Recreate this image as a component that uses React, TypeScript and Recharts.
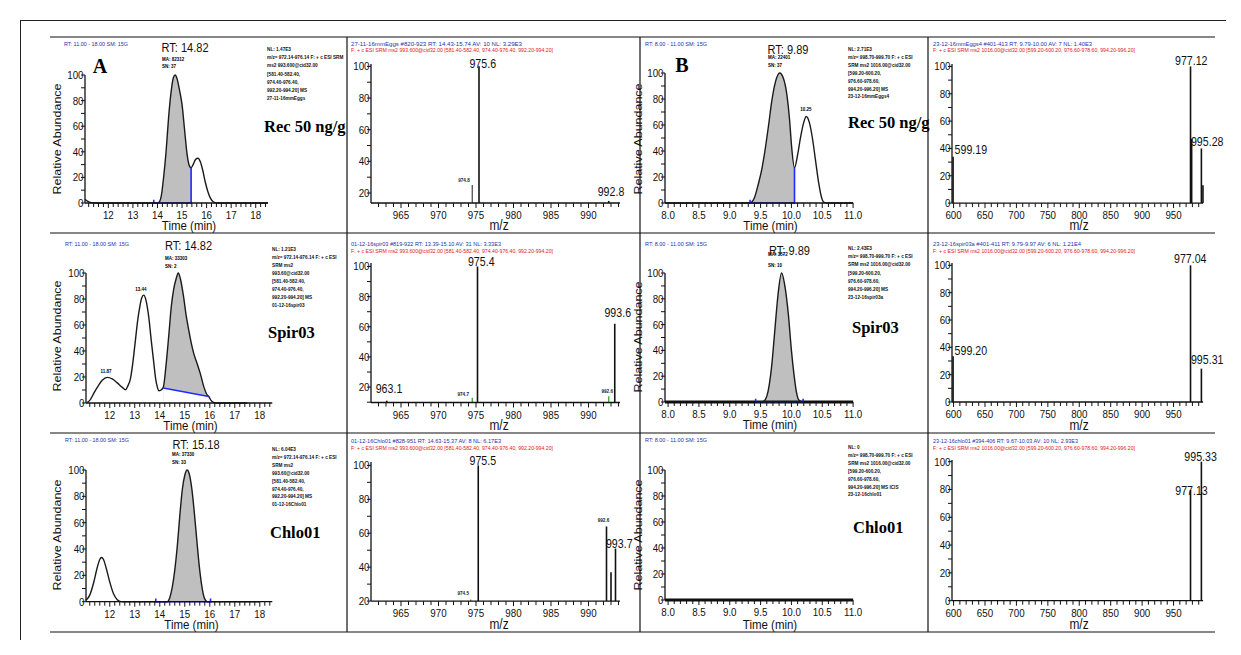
import React from "react";
import { ComposedChart, Line, Area, XAxis, YAxis, ReferenceLine, Scatter } from "recharts";

const SANS = "'Liberation Sans', Arial, Helvetica, sans-serif";
const SERIF = "'Liberation Serif', 'Times New Roman', serif";
const BLUE = "#1f2bff";
const GREEN = "#22a022";

// tick labels
const rtTicksA = [12, 13, 14, 15, 16, 17, 18];
const rtTicksB = [8, 8.5, 9, 9.5, 10, 10.5, 11];
const mzTicksA = [965, 970, 975, 980, 985, 990];
const mzTicksB = [600, 650, 700, 750, 800, 850, 900, 950];
const abTicks = [0, 20, 40, 60, 80, 100];
const abTicksMs = [20, 40, 60, 80, 100];

// minor tick positions
const steps = (a: number, b: number, s: number) =>
  Array.from({ length: Math.round((b - a) / s) + 1 }, (_, i) => +(a + i * s).toFixed(2));

// ---- sample A chromatograms [time, rel. abundance]
const chromRecA = [
  [11.05, 3], [11.15, 1.5], [11.3, 0.3], [11.5, 0], [13.9, 0], [14.05, 0.5], [14.15, 5], [14.25, 20],
  [14.35, 40], [14.45, 66], [14.55, 86], [14.65, 98], [14.72, 100], [14.8, 97], [14.9, 88], [15.0, 77],
  [15.1, 58], [15.2, 39], [15.3, 29], [15.37, 27.5], [15.45, 30], [15.55, 34], [15.65, 35], [15.75, 32],
  [15.85, 25], [15.95, 16], [16.05, 9], [16.15, 4], [16.27, 1], [16.4, 0], [18.5, 0],
];
const winRecA = [14.05, 15.37];
const baseRecA = [[13.85, 2.5], [13.85, 0], [15.37, 0], [15.37, 27.5]];

const chromSpirA = [
  [11.1, 0.5], [11.2, 2], [11.35, 7], [11.5, 12], [11.7, 17.5], [11.9, 19.7], [12.1, 18.5], [12.3, 15.5],
  [12.5, 12], [12.63, 10.2], [12.72, 13], [12.83, 19], [12.93, 32], [13.03, 49], [13.12, 64], [13.2, 74],
  [13.28, 81], [13.36, 83], [13.45, 79], [13.56, 66], [13.66, 48], [13.76, 31], [13.84, 18], [13.9, 12.5],
  [13.96, 9.4], [14.05, 10], [14.14, 12], [14.26, 31], [14.36, 52], [14.46, 74], [14.56, 88], [14.66, 96],
  [14.74, 100], [14.82, 96], [14.95, 82], [15.05, 68], [15.16, 56], [15.26, 46], [15.36, 38], [15.5, 30],
  [15.63, 22], [15.77, 12], [15.9, 6], [15.96, 5], [16.05, 2], [16.15, 0.5], [16.25, 0], [17.5, 0],
];
const winSpirA = [14.14, 15.96];
const baseSpirA = [[14.14, 11.5], [15.96, 5]];

const chromChloA = [
  [11.05, 1], [11.2, 5], [11.35, 14], [11.5, 26], [11.6, 32], [11.67, 33.5], [11.75, 32], [11.85, 26],
  [12.0, 15], [12.15, 6], [12.3, 1.5], [12.4, 0.3], [12.5, 0], [14.3, 0], [14.4, 3], [14.5, 11],
  [14.6, 24], [14.7, 42], [14.8, 65], [14.9, 85], [15.0, 96], [15.09, 100], [15.18, 97], [15.28, 86],
  [15.38, 68], [15.48, 47], [15.58, 27], [15.68, 12], [15.78, 3], [15.9, 0], [18.0, 0],
];
const winChloA = [14.3, 15.9];
const baseChloA = [[13.84, 2.5], [13.84, 0], [16.03, 0], [16.03, 2.5]];

// ---- sample B chromatograms
const chromRecB = [
  [7.95, 0], [9.3, 0], [9.35, 0.5], [9.4, 4], [9.46, 14], [9.52, 26], [9.57, 40], [9.63, 60], [9.68, 78],
  [9.74, 93], [9.81, 100], [9.87, 96], [9.93, 82], [9.97, 64], [10.0, 45], [10.05, 27], [10.1, 37],
  [10.15, 51], [10.2, 62], [10.24, 66.5], [10.29, 62], [10.34, 50], [10.39, 33], [10.44, 16], [10.49, 4],
  [10.53, 0.5], [10.6, 0], [11, 0],
];
const winRecB = [9.35, 10.05];
const baseRecB = [[9.33, 2.5], [9.33, 0], [10.05, 0], [10.05, 27]];

const chromSpirB = [
  [9.5, 0], [9.56, 1], [9.62, 8], [9.68, 28], [9.73, 55], [9.78, 82], [9.84, 100], [9.9, 88],
  [9.95, 68], [10.0, 40], [10.04, 22], [10.08, 8], [10.12, 1.5], [10.18, 0],
];
const winSpirB = [9.5, 10.18];
const baseSpirB = [[9.42, 2.5], [9.42, 0], [10.19, 0], [10.19, 2.5]];

const floorB = [[7.95, 0], [11, 0]];

// ---- spectra [m/z, rel. abundance]
const specRecA = [[975.4, 100], [992.7, 15]];
const specRecAminor = [[974.5, 25]];
const specSpirA = [[963.1, 11], [975.2, 100], [993.5, 62]];
const specSpirAminor = [[974.5, 13], [992.7, 14]];
const specChloA = [[975.3, 100], [992.4, 64], [993.0, 37], [993.6, 51]];
const specChloAminor = [[974.3, 21]];
const specRecB = [[599.2, 34], [977.0, 100], [978.8, 47], [994.3, 40], [996.8, 13]];
const specSpirB = [[599.2, 33.5], [977.0, 100], [994.3, 24.4]];
const specChloB = [[977.0, 79.6], [994.3, 100]];

// peak labels [m/z, abundance, text]
const lblRecA = [[975.9, 99, "975.6"], [993.0, 17.9, "992.8"]];
const lblRecAminor = [[973.4, 26.7, "974.8"]];
const lblSpirA = [[975.7, 100.5, "975.4"], [993.9, 66.4, "993.6"], [963.4, 16, "963.1"]];
const lblSpirAminor = [[973.3, 14.4, "974.7"], [992.5, 16.4, "992.6"]];
const lblChloA = [[975.9, 100, "975.5"], [994.1, 51.5, "993.7"]];
const lblChloAminor = [[973.3, 23.4, "974.5"], [992.0, 66.6, "992.6"]];
const lblRecB = [[978.2, 101.2, "977.12"], [601.6, 35.9, "599.19"], [977.7, 41.9, "995.28"]];
const lblSpirB = [[976.6, 101.7, "977.04"], [601.6, 34.7, "599.20"], [977.7, 27.6, "995.31"]];
const lblChloB = [[993.0, 100.7, "995.33"], [978.5, 75.8, "977.13"]];
const START = new Set(["599.19", "599.20", "995.28", "995.31"]);

const YW = 40, TOP = 18, RIGHT = 34, XH = 24;

const mkTick = (axis: "x" | "y", majors: number[], fmt: (v: number) => string) => (p: any) => {
  const { x, y, payload } = p;
  const v = payload.value;
  const major = majors.some((m) => Math.abs(m - v) < 1e-6);
  if (axis === "x") {
    return (
      <g>
        <line x1={x} x2={x} y1={y} y2={y + (major ? 5 : 4)} stroke="#111" strokeWidth={1} />
        {major && (
          <text transform={`translate(${x} ${y + 16}) scale(0.85 1)`} textAnchor="middle" fontSize={11.5} fontFamily={SANS} fill="#111">
            {fmt(v)}
          </text>
        )}
      </g>
    );
  }
  return (
    <g>
      <line x1={x - 4} x2={x} y1={y} y2={y} stroke="#111" strokeWidth={1} />
      {major && (
        <text transform={`translate(${x - 1.5} ${y + 4}) scale(0.85 1)`} textAnchor="end" fontSize={11.5} fontFamily={SANS} fill="#111">
          {fmt(v)}
        </text>
      )}
    </g>
  );
};

function Chart(props: any) {
  const { box, xDomain, yDomain, xTicks, xMajor, xFmt, yTicks, yMajor, children } = props;
  const w = box.x1 - box.x0 + YW + RIGHT;
  const h = box.y1 - box.y0 + TOP + XH;
  return (
    <div style={{ position: "absolute", left: box.x0 - YW, top: box.y0 - TOP }}>
      <ComposedChart width={w} height={h} margin={{ top: TOP, right: RIGHT, bottom: 0, left: 0 }}>
        {children}
        <XAxis type="number" dataKey="x" domain={xDomain} ticks={xTicks} interval={0} height={XH}
          tickSize={0} tickMargin={0} tickLine={false} axisLine={{ stroke: "#111", strokeWidth: 1.3 }} tick={mkTick("x", xMajor, xFmt)} />
        <YAxis type="number" dataKey="y" domain={yDomain} ticks={yTicks} interval={0} width={YW}
          tickSize={0} tickMargin={0} tickLine={false} axisLine={{ stroke: "#111", strokeWidth: 1.3 }} tick={mkTick("y", yMajor, (v) => String(v))} />
      </ComposedChart>
    </div>
  );
}

const toPts = (a: any[]) => a.map(([x, y]) => ({ x, y }));

function Chrom(props: any) {
  const { curve, win, base, cover, floor, ...rest } = props;
  const pts = curve ? toPts(curve) : [];
  const fill = win ? pts.filter((p) => p.x >= win[0] - 1e-9 && p.x <= win[1] + 1e-9) : [];
  const basePts = base ? toPts(base) : [];
  return (
    <Chart {...rest} yDomain={[0, 100]} yTicks={steps(0, 100, 10)} yMajor={abTicks}>
      {fill.length > 0 && (
        <Area data={fill} dataKey="y" type="monotone" stroke="none" fill="#bfbfbf" fillOpacity={1} isAnimationActive={false} />
      )}
      {cover && (
        <Area data={basePts} dataKey="y" type="linear" stroke="none" fill="#ffffff" fillOpacity={1} isAnimationActive={false} />
      )}
      {floor && (
        <Line data={toPts(floor)} dataKey="y" type="linear" stroke="#111" strokeWidth={3} dot={false} isAnimationActive={false} />
      )}
      {pts.length > 0 && (
        <Line data={pts} dataKey="y" type="monotone" stroke="#1a1a1a" strokeWidth={1.4} dot={false} isAnimationActive={false} />
      )}
      {basePts.length > 0 && (
        <Line data={basePts} dataKey="y" type="linear" stroke={BLUE} strokeWidth={1.6} dot={false} isAnimationActive={false} />
      )}
    </Chart>
  );
}

function Spectrum(props: any) {
  const { sticks, minor, minorColor, labels, minorLabels, yDomain, ...rest } = props;
  const floor = yDomain[0];
  return (
    <Chart {...rest} yDomain={yDomain}>
      {minor.map(([mz, h]: number[], i: number) => (
        <ReferenceLine key={"m" + i} segment={[{ x: mz, y: floor }, { x: mz, y: h }]} stroke={minorColor} strokeWidth={1.2} ifOverflow="visible" />
      ))}
      {sticks.map(([mz, h]: number[], i: number) => (
        <ReferenceLine key={"s" + i} segment={[{ x: mz, y: floor }, { x: mz, y: h }]} stroke="#111" strokeWidth={1.6} ifOverflow="visible" />
      ))}
      <Scatter
        data={labels.map(([x, y, t]: any[]) => ({ x, y, t }))}
        isAnimationActive={false}
        shape={(p: any) => (
          <text transform={`translate(${p.cx} ${p.cy}) scale(0.85 1)`} textAnchor={START.has(p.payload.t) ? "start" : "middle"}
            fontSize={12.5} fontFamily={SANS} fill="#111">
            {p.payload.t}
          </text>
        )}
      />
      <Scatter
        data={minorLabels.map(([x, y, t]: any[]) => ({ x, y, t }))}
        isAnimationActive={false}
        shape={(p: any) => (
          <text x={p.cx} y={p.cy} textAnchor="middle" fontSize={4.6} fontFamily={SANS} fontWeight={700} fill="#222">
            {p.payload.t}
          </text>
        )}
      />
    </Chart>
  );
}

// ---------- overlay text helpers
function NT(p: any) {
  const { x, y, s, a = "start", f = "#111", w = 400, sx = 0.85, fam = SANS, len, children } = p;
  return (
    <text transform={`translate(${x} ${y}) scale(${sx} 1)`} fontSize={s} textAnchor={a} fill={f} fontWeight={w} fontFamily={fam}
      textLength={len ? len / sx : undefined} lengthAdjust={len ? "spacingAndGlyphs" : undefined}>
      {children}
    </text>
  );
}

function Block({ x, y, gap, lines }: any) {
  return (
    <g>
      {lines.map((t: string, i: number) => (
        <text key={i} x={x} y={y + i * gap} fontSize={4.7} fontWeight={700} fontFamily={SANS} fill="#111">
          {t}
        </text>
      ))}
    </g>
  );
}

function RelAb({ x, y }: any) {
  return (
    <text transform={`translate(${x} ${y}) rotate(-90) scale(1 0.85)`} textAnchor="middle" dominantBaseline="central" fontSize={12.5} fontFamily={SANS} fill="#111">
      Relative Abundance
    </text>
  );
}

const sideA = (nl: string, tail: string, file: string) => [
  `NL: ${nl}`, "m/z= 972.14-976.14 F: + c ESI SRM", tail, "[581.40-582.40,", "974.40-976.40,", "992.20-994.20]  MS", file,
];
const sideB = (nl: string, last: string, file: string) => [
  `NL: ${nl}`, "m/z= 998.70-999.70 F: + c ESI", "SRM ms2 1016.00@cid32.00", "[599.20-600.20,", "976.60-978.60,", last, file,
];
const redA = "F: + c ESI SRM ms2 993.600@cid32.00 [581.40-582.40, 974.40-976.40, 992.20-994.20]";
const redB = "F: + c ESI SRM ms2 1016.00@cid32.00 [599.20-600.20, 976.60-978.60, 994.20-996.20]";

function Overlay() {
  return (
    <svg width={1241} height={655} style={{ position: "absolute", left: 0, top: 0, pointerEvents: "none" }}>
      {/* frame */}
      <line x1={20} y1={20.5} x2={1226} y2={20.5} stroke="#222" strokeWidth={1} />
      <line x1={20.5} y1={20} x2={20.5} y2={640} stroke="#222" strokeWidth={1} />
      {[37, 233, 433, 632].map((y) => (
        <line key={y} x1={50} y1={y} x2={1215} y2={y} stroke="#111" strokeWidth={1.2} />
      ))}
      {[347, 640, 928].map((x) => (
        <line key={x} x1={x} y1={37} x2={x} y2={632} stroke="#111" strokeWidth={1.2} />
      ))}

      {/* column A chromatograms */}
      <NT x={64} y={46} s={5} f="#2233aa" len={64}>RT: 11.00 - 18.00  SM: 15G</NT>
      <NT x={185} y={52} s={13} a="middle">RT: 14.82</NT>
      <text x={162} y={61} fontSize={4.5} fontFamily={SANS} fontWeight={700}>MA: 82312</text>
      <text x={162} y={68} fontSize={4.5} fontFamily={SANS} fontWeight={700}>SN: 37</text>
      <text x={100} y={73} fontSize={20} fontFamily={SERIF} fontWeight={700} textAnchor="middle">A</text>
      <Block x={267} y={51} gap={8.2} lines={sideA("1.47E3", "ms2 993.600@cid32.00", "27-11-16mmEggs")} />
      <text x={264} y={132} fontSize={16.5} fontFamily={SERIF} fontWeight={700}>Rec 50 ng/g</text>
      <RelAb x={57} y={139} />
      <NT x={189} y={230} s={13.5} a="middle">Time (min)</NT>

      <NT x={65} y={246} s={5} f="#2233aa" len={64}>RT: 11.00 - 18.00  SM: 15G</NT>
      <NT x={188.5} y={250} s={13} a="middle">RT: 14.82</NT>
      <text x={165} y={259.5} fontSize={4.5} fontFamily={SANS} fontWeight={700}>MA: 33303</text>
      <text x={165} y={268} fontSize={4.5} fontFamily={SANS} fontWeight={700}>SN: 2</text>
      <Block x={272} y={251} gap={8} lines={["NL: 1.21E3", "m/z= 972.14-976.14 F: + c ESI", "SRM ms2", "993.60@cid32.00", "[581.40-582.40,", "974.40-976.40,", "992.20-994.20]  MS", "01-12-16spir03"]} />
      <text x={268} y={338} fontSize={16.5} fontFamily={SERIF} fontWeight={700}>Spir03</text>
      <text x={106} y={373} fontSize={4.5} fontFamily={SANS} fontWeight={700} textAnchor="middle">11.87</text>
      <text x={141} y={291} fontSize={4.5} fontFamily={SANS} fontWeight={700} textAnchor="middle">13.44</text>
      <RelAb x={57} y={336} />
      <NT x={190.5} y={430} s={13.5} a="middle">Time (min)</NT>

      <NT x={65} y={442} s={5} f="#2233aa" len={64}>RT: 11.00 - 18.00  SM: 15G</NT>
      <NT x={196} y={449} s={13} a="middle">RT: 15.18</NT>
      <text x={172} y={456} fontSize={4.5} fontFamily={SANS} fontWeight={700}>MA: 37330</text>
      <text x={172} y={464} fontSize={4.5} fontFamily={SANS} fontWeight={700}>SN: 33</text>
      <Block x={272} y={451} gap={7.9} lines={["NL: 6.04E3", "m/z= 972.14-976.14 F: + c ESI", "SRM ms2", "993.60@cid32.00", "[581.40-582.40,", "974.40-976.40,", "992.20-994.20]  MS", "01-12-16Chlo01"]} />
      <text x={270} y={538} fontSize={16.5} fontFamily={SERIF} fontWeight={700}>Chlo01</text>
      <RelAb x={57} y={535} />
      <NT x={191.5} y={629} s={13.5} a="middle">Time (min)</NT>

      {/* column A spectra */}
      <NT x={351} y={46} s={5} f="#2233aa" len={171}>27-11-16mmEggs #820-923  RT: 14.43-15.74  AV: 10  NL: 3.29E3</NT>
      <NT x={351} y={52} s={5} f="#e02020" len={202}>{redA}</NT>
      <NT x={499} y={230} s={14} a="middle">m/z</NT>
      <NT x={351} y={246} s={5} f="#2233aa" len={150}>01-12-16spir03 #819-922  RT: 13.39-15.10  AV: 31  NL: 3.33E3</NT>
      <NT x={351} y={253} s={5} f="#e02020" len={202}>{redA}</NT>
      <NT x={499} y={430} s={14} a="middle">m/z</NT>
      <NT x={351} y={443} s={5} f="#2233aa" len={150}>01-12-16Chlo01 #828-951  RT: 14.63-15.37  AV: 8  NL: 6.17E3</NT>
      <NT x={351} y={450} s={5} f="#e02020" len={202}>{redA}</NT>
      <NT x={499} y={629} s={14} a="middle">m/z</NT>

      {/* column B chromatograms */}
      <NT x={645} y={46} s={5} f="#2233aa" len={62}>RT: 8.00 - 11.00  SM: 15G</NT>
      <NT x={788} y={54} s={13} a="middle">RT: 9.89</NT>
      <text x={768} y={59} fontSize={4.5} fontFamily={SANS} fontWeight={700}>MA: 22401</text>
      <text x={768} y={67} fontSize={4.5} fontFamily={SANS} fontWeight={700}>SN: 37</text>
      <text x={682} y={72} fontSize={20} fontFamily={SERIF} fontWeight={700} textAnchor="middle">B</text>
      <Block x={848} y={51} gap={7.9} lines={sideB("2.71E3", "994.20-996.20]  MS", "23-12-16mmEggs4")} />
      <text x={848} y={128} fontSize={16.5} fontFamily={SERIF} fontWeight={700}>Rec 50 ng/g</text>
      <text x={806} y={111} fontSize={4.5} fontFamily={SANS} fontWeight={700} textAnchor="middle">10.25</text>
      <RelAb x={637.5} y={139} />
      <NT x={770.5} y={230} s={13.5} a="middle">Time (min)</NT>

      <NT x={645} y={246} s={5} f="#2233aa" len={62}>RT: 8.00 - 11.00  SM: 15G</NT>
      <NT x={789.5} y={255} s={13} a="middle">RT: 9.89</NT>
      <text x={768} y={256} fontSize={4.5} fontFamily={SANS} fontWeight={700}>MA: 3572</text>
      <text x={768} y={267} fontSize={4.5} fontFamily={SANS} fontWeight={700}>SN: 10</text>
      <Block x={848} y={250} gap={8.2} lines={sideB("2.43E3", "994.20-996.20]  MS", "23-12-16spir03a")} />
      <text x={852} y={333} fontSize={16.5} fontFamily={SERIF} fontWeight={700}>Spir03</text>
      <RelAb x={637.5} y={337} />
      <NT x={770} y={429} s={13.5} a="middle">Time (min)</NT>

      <NT x={645} y={442} s={5} f="#2233aa" len={62}>RT: 8.00 - 11.00  SM: 15G</NT>
      <Block x={848} y={449} gap={7.9} lines={sideB("0", "994.20-996.20]  MS  ICIS", "23-12-16chlo01")} />
      <text x={853} y={533} fontSize={16.5} fontFamily={SERIF} fontWeight={700}>Chlo01</text>
      <RelAb x={637.5} y={535} />
      <NT x={770} y={629} s={13.5} a="middle">Time (min)</NT>

      {/* column B spectra */}
      <NT x={933} y={46} s={5} f="#2233aa" len={159}>23-12-16mmEggs4 #401-413  RT: 9.79-10.00  AV: 7  NL: 1.40E3</NT>
      <NT x={933} y={52} s={5} f="#e02020" len={202}>{redB}</NT>
      <NT x={1079} y={230} s={14} a="middle">m/z</NT>
      <NT x={933} y={246} s={5} f="#2233aa" len={148}>23-12-16spir03a #401-411  RT: 9.79-9.97  AV: 6  NL: 1.21E4</NT>
      <NT x={933} y={253} s={5} f="#e02020" len={202}>{redB}</NT>
      <NT x={1079} y={430} s={14} a="middle">m/z</NT>
      <NT x={933} y={443} s={5} f="#2233aa" len={145}>23-12-16chlo01 #394-406  RT: 9.67-10.03  AV: 10  NL: 2.93E3</NT>
      <NT x={933} y={450} s={5} f="#e02020" len={202}>{redB}</NT>
      <NT x={1079} y={629} s={14} a="middle">m/z</NT>
    </svg>
  );
}

export default function App() {
  const fmtInt = (v: number) => String(v);
  const fmt1 = (v: number) => v.toFixed(1);
  const colA = { xDomain: [11.05, 18.5], xTicks: steps(11.2, 18.4, 0.2), xMajor: rtTicksA, xFmt: fmtInt };
  const colB = { xDomain: [7.95, 11], xTicks: steps(8, 11, 0.1), xMajor: rtTicksB, xFmt: fmt1 };
  const msA = { xDomain: [961, 994.2], xTicks: steps(962, 994, 1), xMajor: mzTicksA, xFmt: fmtInt, yMajor: abTicksMs };
  const msB = { xDomain: [597.5, 997], xTicks: steps(600, 990, 10), xMajor: mzTicksB, xFmt: fmtInt, yMajor: abTicks, yTicks: steps(0, 100, 10) };
  return (
    <div style={{ position: "absolute", left: 0, top: 0, width: 1241, height: 655, background: "#fff", overflow: "hidden" }}>
      <Chrom {...colA} box={{ x0: 85, x1: 268, y0: 75, y1: 203 }} curve={chromRecA} win={winRecA} base={baseRecA} />
      <Chrom {...colA} box={{ x0: 85.5, x1: 271.8, y0: 273.3, y1: 403.3 }} curve={chromSpirA} win={winSpirA} base={baseSpirA} cover />
      <Chrom {...colA} box={{ x0: 86.2, x1: 272.5, y0: 470, y1: 601.7 }} curve={chromChloA} win={winChloA} base={baseChloA} />

      <Chrom {...colB} box={{ x0: 665.2, x1: 853.3, y0: 73.3, y1: 203.3 }} curve={chromRecB} win={winRecB} base={baseRecB} />
      <Chrom {...colB} box={{ x0: 665.2, x1: 853.3, y0: 272.7, y1: 401.7 }} curve={chromSpirB} win={winSpirB} base={baseSpirB} floor={floorB} />
      <Chrom {...colB} box={{ x0: 665.2, x1: 853.3, y0: 470, y1: 600 }} floor={floorB} />

      <Spectrum {...msA} box={{ x0: 370.7, x1: 619.7, y0: 64.3, y1: 203.3 }} yDomain={[13.7, 101.5]} yTicks={steps(20, 100, 10)}
        sticks={specRecA} minor={specRecAminor} minorColor="#444" labels={lblRecA} minorLabels={lblRecAminor} />
      <Spectrum {...msA} box={{ x0: 370.7, x1: 619.7, y0: 263.2, y1: 402.7 }} yDomain={[9.8, 102.3]} yTicks={steps(10, 100, 10)}
        sticks={specSpirA} minor={specSpirAminor} minorColor={GREEN} labels={lblSpirA} minorLabels={lblSpirAminor} />
      <Spectrum {...msA} box={{ x0: 370.7, x1: 619.7, y0: 461.6, y1: 600.7 }} yDomain={[20, 102]} yTicks={steps(20, 100, 10)}
        sticks={specChloA} minor={specChloAminor} minorColor={GREEN} labels={lblChloA} minorLabels={lblChloAminor} />

      <Spectrum {...msB} box={{ x0: 951.7, x1: 1202.8, y0: 64.2, y1: 203.3 }} yDomain={[0, 101.8]}
        sticks={specRecB} minor={[]} minorColor="#444" labels={lblRecB} minorLabels={[]} />
      <Spectrum {...msB} box={{ x0: 951.7, x1: 1202.8, y0: 262.7, y1: 401.7 }} yDomain={[0, 101.7]}
        sticks={specSpirB} minor={[]} minorColor="#444" labels={lblSpirB} minorLabels={[]} />
      <Spectrum {...msB} box={{ x0: 951.7, x1: 1202.8, y0: 460, y1: 600.7 }} yDomain={[0, 101.2]}
        sticks={specChloB} minor={[]} minorColor="#444" labels={lblChloB} minorLabels={[]} />

      <Overlay />
    </div>
  );
}
